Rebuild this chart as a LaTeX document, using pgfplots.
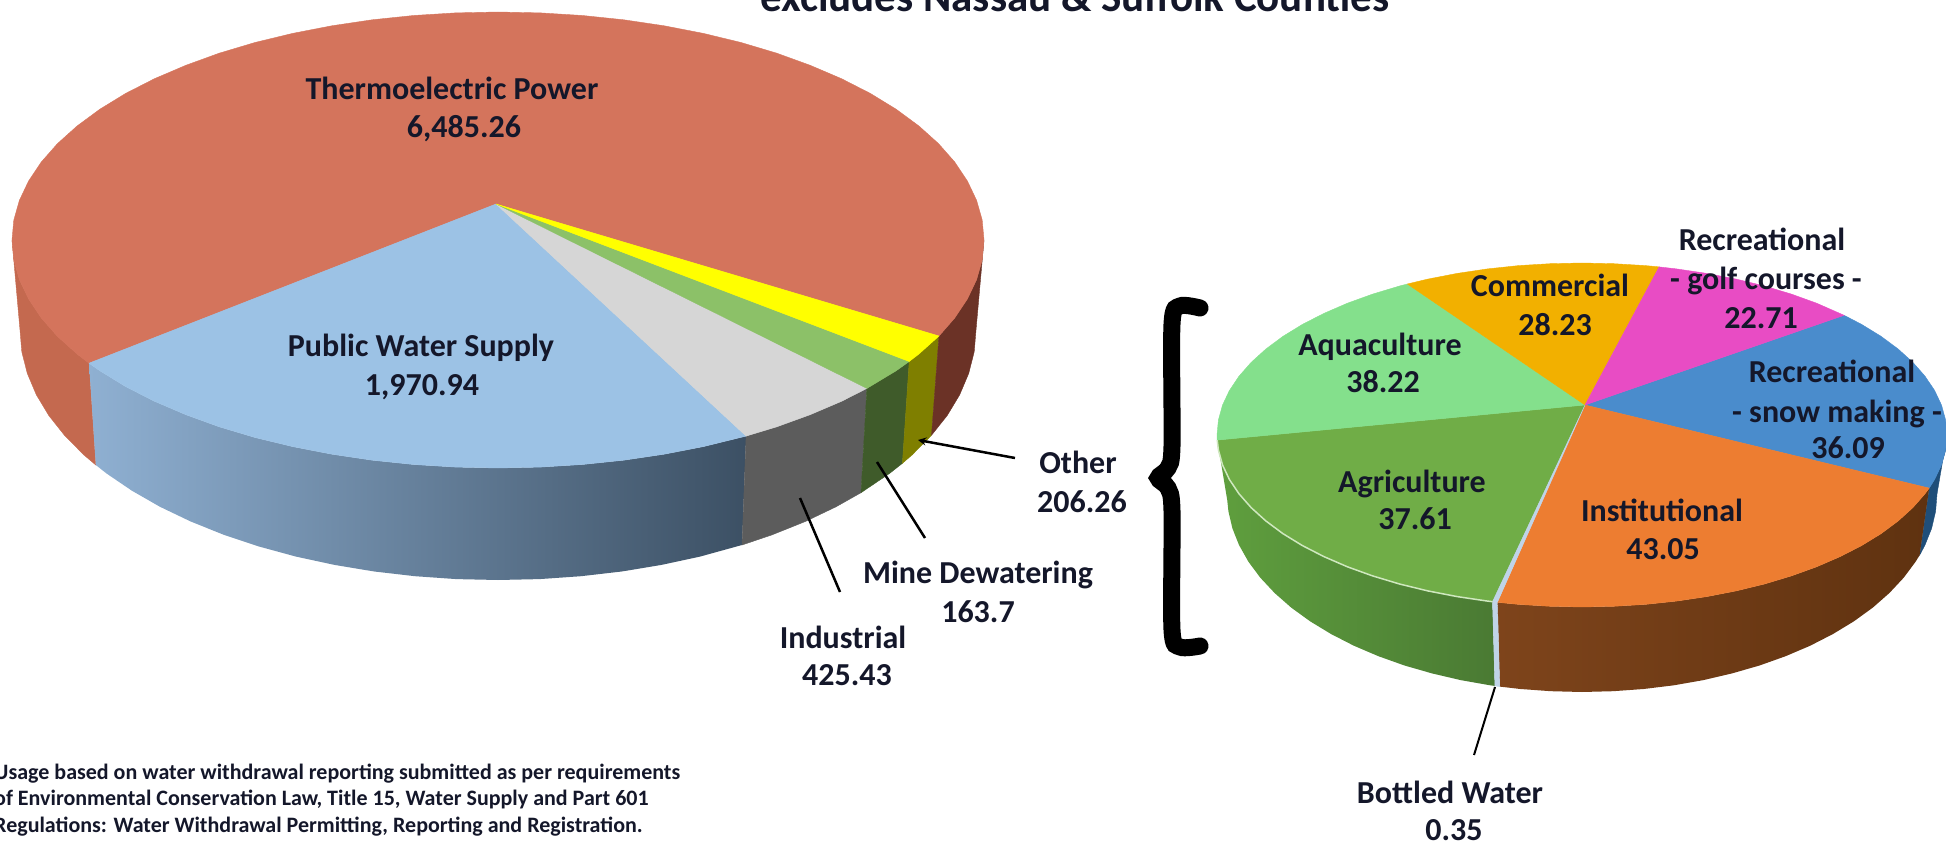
\documentclass[border=0pt]{standalone}
\usepackage{fontspec}
\setmainfont{Carlito}
\usepackage{pgfplots}
\pgfplotsset{compat=1.18}
\definecolor{txt}{HTML}{14172A}
\definecolor{redT}{HTML}{D4745C}
\definecolor{redL}{HTML}{C4694F}
\definecolor{redR}{HTML}{6B3226}
\definecolor{bluT}{HTML}{9CC2E5}
\definecolor{bluA}{HTML}{8FB0D2}
\definecolor{bluM}{HTML}{667F9C}
\definecolor{bluB}{HTML}{3C5064}
\definecolor{gryT}{HTML}{D6D6D6}
\definecolor{gryS}{HTML}{5C5C5C}
\definecolor{grnT}{HTML}{8CC168}
\definecolor{grnS}{HTML}{3F5B2A}
\definecolor{yelT}{HTML}{FFFF00}
\definecolor{yelS}{HTML}{7F7F00}
\definecolor{aqua}{HTML}{84E08C}
\definecolor{comm}{HTML}{F2B000}
\definecolor{pink}{HTML}{E84CC4}
\definecolor{snow}{HTML}{4A8CCC}
\definecolor{snoS}{HTML}{1F4E79}
\definecolor{inst}{HTML}{ED7D31}
\definecolor{insA}{HTML}{7E441B}
\definecolor{insB}{HTML}{5F3210}
\definecolor{agri}{HTML}{70AD47}
\definecolor{agrA}{HTML}{5F9F3E}
\definecolor{agrB}{HTML}{4A7A33}
\definecolor{botl}{HTML}{C0D4E8}
\definecolor{rimg}{HTML}{CFE8BF}
\newcommand\lab[3]{\node[anchor=base,inner sep=0pt,text=txt,font=\fontsize{32}{38}\selectfont\bfseries] at (axis cs:#1,#2) {#3};}
\begin{document}
\begin{tikzpicture}
\useasboundingbox (0,0) rectangle (1946pt,842pt);
\begin{axis}[at={(0,0)},anchor=south west,scale only axis,width=1946pt,height=842pt,
  xmin=0,xmax=1946,ymin=0,ymax=842,y dir=reverse,hide axis,clip=false,no marks]
% ---------- left pie: side faces
\addplot[fill=redL,draw=redL] coordinates {(89,363.2)(77.1,354)(57.5,336.4)(41.3,318)(28.6,299)(19.4,279.6)(13.8,259.9)(12,240)(20,330)(21.8,351.8)(27.3,373.4)(36.3,394.7)(48.8,415.5)(64.8,435.7)(84,455)(95.8,465)(89,363.2)};
\addplot[left color=bluA,middle color=bluM,right color=bluB,draw=none] coordinates {(746.1,436.1)(703.4,446.6)(664.2,454.2)(623.8,460.2)(582.4,464.5)(540.4,467.1)(498,468)(455.6,467.1)(413.6,464.5)(372.2,460.2)(331.8,454.2)(292.6,446.6)(255,437.5)(219.2,426.8)(185.6,414.6)(154.3,401.2)(125.7,386.6)(99.9,370.8)(89,363.2)(95.8,465)(106.4,473.4)(131.9,490.7)(160,506.8)(190.7,521.5)(223.8,534.8)(259,546.5)(296,556.6)(334.5,564.9)(374.3,571.5)(415,576.2)(456.3,579.1)(498,580)(539.7,579.1)(581,576.2)(621.7,571.5)(661.5,564.9)(700,556.6)(742,545)(746.1,436.1)};
\addplot[fill=gryS,draw=gryS] coordinates {(866.9,388.4)(841.7,401.2)(810.4,414.6)(776.8,426.8)(746.1,436.1)(742,545)(772.2,534.8)(805.3,521.5)(836,506.8)(861,492.7)(866.9,388.4)};
\addplot[fill=grnS,draw=grnS] coordinates {(909.2,361.5)(896.1,370.8)(866.9,388.4)(861,492.7)(889.6,473.4)(902.4,463.3)(909.2,361.5)};
\addplot[fill=yelS,draw=yelS] coordinates {(939,336)(918.9,354)(909.2,361.5)(902.4,463.3)(912,455)(931.5,435.2)(939,336)};
\addplot[fill=redR,draw=redR] coordinates {(984,240)(982.2,259.9)(976.6,279.6)(967.4,299)(954.7,318)(939,336)(931.5,435.2)(947.2,415.5)(959.7,394.7)(968.7,373.4)(974.2,351.8)(976,330)(984,240)};
% ---------- left pie: top
\addplot[fill=redT,draw=redT] coordinates {(496,204)(89,363.2)(77.1,354)(57.5,336.4)(41.3,318)(28.6,299)(19.4,279.6)(13.8,259.9)(12,240)(13.8,220.1)(19.4,200.4)(28.6,181)(41.3,162)(57.5,143.6)(77.1,126)(99.9,109.2)(125.7,93.4)(154.3,78.8)(185.6,65.4)(219.2,53.2)(255,42.5)(292.6,33.4)(331.8,25.8)(372.2,19.8)(413.6,15.5)(455.6,12.9)(498,12)(540.4,12.9)(582.4,15.5)(623.8,19.8)(664.2,25.8)(703.4,33.4)(741,42.5)(776.8,53.2)(810.4,65.4)(841.7,78.8)(870.3,93.4)(896.1,109.2)(918.9,126)(938.5,143.6)(954.7,162)(967.4,181)(976.6,200.4)(982.2,220.1)(984,240)(982.2,259.9)(976.6,279.6)(967.4,299)(954.7,318)(939,336)(496,204)};
\addplot[fill=bluT,draw=bluT] coordinates {(496,204)(746.1,436.1)(703.4,446.6)(664.2,454.2)(623.8,460.2)(582.4,464.5)(540.4,467.1)(498,468)(455.6,467.1)(413.6,464.5)(372.2,460.2)(331.8,454.2)(292.6,446.6)(255,437.5)(219.2,426.8)(185.6,414.6)(154.3,401.2)(125.7,386.6)(99.9,370.8)(89,363.2)(496,204)};
\addplot[fill=gryT,draw=gryT] coordinates {(496,204)(866.9,388.4)(841.7,401.2)(810.4,414.6)(776.8,426.8)(746.1,436.1)(496,204)};
\addplot[fill=grnT,draw=grnT] coordinates {(496,204)(909.2,361.5)(896.1,370.8)(866.9,388.4)(496,204)};
\addplot[fill=yelT,draw=yelT] coordinates {(496,204)(939,336)(918.9,354)(909.2,361.5)(496,204)};
% ---------- right pie: side faces
\addplot[fill=snoS,draw=snoS] coordinates {(1947,435)(1945.6,450)(1941.5,464.9)(1934.6,479.5)(1929.2,488.1)(1919.6,555.2)(1924.9,545.2)(1931.6,528.4)(1935.6,511.3)(1937,494)(1947,435)};
\addplot[left color=insA,right color=insB,draw=none] coordinates {(1929.2,488.1)(1925,493.8)(1912.8,507.7)(1898.1,521)(1881,533.7)(1861.6,545.6)(1840.1,556.6)(1816.6,566.8)(1791.4,575.9)(1764.5,584)(1736.2,590.9)(1706.8,596.6)(1676.5,601.1)(1645.4,604.4)(1613.8,606.3)(1582,607)(1550.2,606.3)(1518.6,604.4)(1497.4,602.3)(1499.7,686.6)(1520.4,689)(1551,691.2)(1582,692)(1613,691.2)(1643.6,689)(1673.9,685.3)(1703.4,680.1)(1732,673.4)(1759.5,665.5)(1785.6,656.2)(1810.2,645.7)(1833,634)(1853.9,621.3)(1872.8,607.6)(1889.4,593)(1903.7,577.7)(1915.6,561.7)(1919.6,555.2)(1929.2,488.1)};
\addplot[left color=agrA,right color=agrB,draw=none] coordinates {(1492.5,601.7)(1487.5,601.1)(1457.2,596.6)(1427.8,590.9)(1399.5,584)(1372.6,575.9)(1347.4,566.8)(1323.9,556.6)(1302.4,545.6)(1283,533.7)(1265.9,521)(1251.2,507.7)(1239,493.8)(1229.4,479.5)(1222.5,464.9)(1218.4,450)(1217.2,440.1)(1227.2,499.9)(1228.4,511.3)(1232.4,528.4)(1239.1,545.2)(1248.4,561.7)(1260.3,577.7)(1274.6,593)(1291.2,607.6)(1310.1,621.3)(1331,634)(1353.8,645.7)(1378.4,656.2)(1404.5,665.5)(1432,673.4)(1460.6,680.1)(1490.1,685.3)(1494.9,685.9)(1492.5,601.7)};
\addplot[fill=botl,draw=botl] coordinates {(1497.4,602.3)(1492.5,601.7)(1494.9,685.9)(1499.7,686.6)(1497.4,602.3)};
% ---------- right pie: top
\addplot[fill=snow,draw=snow] coordinates {(1585,405)(1844.1,315.3)(1861.6,324.4)(1881,336.3)(1898.1,349)(1912.8,362.3)(1925,376.2)(1934.6,390.5)(1941.5,405.1)(1945.6,420)(1947,435)(1945.6,450)(1941.5,464.9)(1934.6,479.5)(1929.2,488.1)(1585,405)};
\addplot[fill=inst,draw=inst] coordinates {(1585,405)(1929.2,488.1)(1925,493.8)(1912.8,507.7)(1898.1,521)(1881,533.7)(1861.6,545.6)(1840.1,556.6)(1816.6,566.8)(1791.4,575.9)(1764.5,584)(1736.2,590.9)(1706.8,596.6)(1676.5,601.1)(1645.4,604.4)(1613.8,606.3)(1582,607)(1550.2,606.3)(1518.6,604.4)(1497.4,602.3)(1585,405)};
\addplot[fill=agri,draw=agri] coordinates {(1585,405)(1492.5,601.7)(1487.5,601.1)(1457.2,596.6)(1427.8,590.9)(1399.5,584)(1372.6,575.9)(1347.4,566.8)(1323.9,556.6)(1302.4,545.6)(1283,533.7)(1265.9,521)(1251.2,507.7)(1239,493.8)(1229.4,479.5)(1222.5,464.9)(1218.4,450)(1217.2,440.1)(1585,405)};
\addplot[fill=botl,draw=botl] coordinates {(1585,405)(1497.4,602.3)(1492.5,601.7)(1585,405)};
\addplot[fill=aqua,draw=aqua] coordinates {(1585,405)(1217.2,440.1)(1217,435)(1218.4,420)(1222.5,405.1)(1229.4,390.5)(1239,376.2)(1251.2,362.3)(1265.9,349)(1283,336.3)(1302.4,324.4)(1323.9,313.4)(1347.4,303.2)(1372.6,294.1)(1399.5,286)(1407.3,284)(1585,405)};
\addplot[fill=comm,draw=comm] coordinates {(1585,405)(1407.3,284)(1427.8,279.1)(1457.2,273.4)(1487.5,268.9)(1518.6,265.6)(1550.2,263.7)(1582,263)(1613.8,263.7)(1645.4,265.6)(1659.1,266.9)(1585,405)};
\addplot[fill=pink,draw=pink] coordinates {(1585,405)(1659.1,266.9)(1676.5,268.9)(1706.8,273.4)(1736.2,279.1)(1764.5,286)(1791.4,294.1)(1816.6,303.2)(1844.1,315.3)(1585,405)};
\addplot[draw=rimg,line width=1.5pt] coordinates {(1492.5,601.7)(1487.5,601.1)(1457.2,596.6)(1427.8,590.9)(1399.5,584)(1372.6,575.9)(1347.4,566.8)(1323.9,556.6)(1302.4,545.6)(1283,533.7)(1265.9,521)(1251.2,507.7)(1239,493.8)(1229.4,479.5)(1222.5,464.9)(1218.4,450)(1217.2,440.1)};
% ---------- brace
\addplot[black,line width=17pt,smooth,line cap=round,tension=0.5] coordinates {(1200,308)(1180,306)(1172,324)(1172,446)(1168,468)(1158,478)(1168,488)(1172,511)(1172,630)(1180,647)(1200,646)};
% ---------- leaders
\addplot[black,line width=2.5pt,->,>=stealth] coordinates {(1015,458)(918,440)};
\addplot[black,line width=2.5pt] coordinates {(925,538)(877,462)};
\addplot[black,line width=2.5pt] coordinates {(840,592)(800,498)};
\addplot[black,line width=2pt] coordinates {(1495,687)(1474,755)};
% ---------- text
\node[anchor=base,inner sep=0pt,text=txt,font=\fontsize{43}{50}\selectfont\bfseries] at (axis cs:1075,12) {excludes Nassau \& Suffolk Counties};
\lab{452}{100}{Thermoelectric Power}
\lab{464}{138}{6,485.26}
\lab{421}{356}{Public Water Supply}
\lab{422}{395}{1,970.94}
\lab{1078}{473}{Other}
\lab{1082}{512}{206.26}
\lab{978}{583}{Mine Dewatering}
\lab{978}{622}{163.7}
\lab{843}{648}{Industrial}
\lab{847}{685}{425.43}
\lab{1762}{251}{Recreational}
\lab{1766}{290}{- golf courses -}
\lab{1761}{328}{22.71}
\lab{1550}{297}{Commercial}
\lab{1555}{335}{28.23}
\lab{1380}{355}{Aquaculture}
\lab{1383}{392}{38.22}
\lab{1832}{382}{Recreational}
\lab{1837}{422}{- snow making -}
\lab{1848}{458}{36.09}
\lab{1412}{492}{Agriculture}
\lab{1415}{529}{37.61}
\lab{1662}{521}{Institutional}
\lab{1663}{559}{43.05}
\lab{1450}{803}{Bottled Water}
\lab{1454}{840}{0.35}
\node[anchor=base west,inner sep=0pt,text=txt,font=\fontsize{22}{26}\selectfont\bfseries] at (axis cs:-6,779) {Usage based on water withdrawal reporting submitted as per requirements};
\node[anchor=base west,inner sep=0pt,text=txt,font=\fontsize{22}{26}\selectfont\bfseries] at (axis cs:-6,805) {of Environmental Conservation Law, Title 15, Water Supply and Part 601};
\node[anchor=base west,inner sep=0pt,text=txt,font=\fontsize{22}{26}\selectfont\bfseries] at (axis cs:-6,832) {Regulations: Water Withdrawal Permitting, Reporting and Registration.};
\end{axis}
\end{tikzpicture}
\end{document}
